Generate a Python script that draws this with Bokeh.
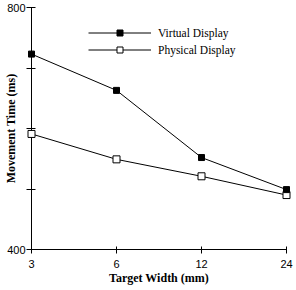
from bokeh.plotting import figure
from bokeh.models import (Range1d, FixedTicker, LinearAxis, Legend, LegendItem, ColumnDataSource)
from bokeh.embed import file_html
from bokeh.resources import INLINE

target_width = [3, 6, 12, 24]
virtual_display = [723, 663, 552, 499]
physical_display = [591, 549, 521, 490]
x_tick_labels = ["3", "6", "12", "24"]
y_ticks = [400, 500, 600, 700, 800]
y_tick_labels = ["400", "", "", "", "800"]
series_names = ["Virtual Display", "Physical Display"]
x_title = "Target Width (mm)"
y_title = "Movement Time (ms)"

p = figure(width=296, height=290, x_axis_type="log",
           x_range=Range1d(target_width[0], target_width[-1]),
           y_range=Range1d(y_ticks[0], y_ticks[-1]),
           output_backend="svg", toolbar_location=None,
           min_border_left=26, min_border_right=10, min_border_top=7, min_border_bottom=41)
p.outline_line_color = None
p.grid.visible = False
p.background_fill_color = "white"
p.border_fill_color = "white"

xa = p.xaxis[0]
xa.ticker = FixedTicker(ticks=target_width, minor_ticks=[])
xa.major_label_overrides = {t: l for t, l in zip(target_width, x_tick_labels)}
xa.major_tick_in = 3
xa.major_tick_out = 4
xa.minor_tick_in = 0
xa.minor_tick_out = 0
xa.axis_line_color = "black"
xa.major_tick_line_color = "black"
xa.major_label_text_font = "Liberation Sans"
xa.major_label_text_font_size = "11px"
xa.major_label_text_color = "black"
xa.major_label_standoff = 6
xa.axis_label = x_title
xa.axis_label_text_font = "Liberation Serif"
xa.axis_label_text_font_style = "bold"
xa.axis_label_text_font_size = "12px"
xa.axis_label_text_color = "black"
xa.axis_label_standoff = 0

ya = p.yaxis[0]
ya.ticker = FixedTicker(ticks=y_ticks, minor_ticks=[])
ya.major_label_overrides = {t: l for t, l in zip(y_ticks, y_tick_labels)}
ya.major_tick_in = 4
ya.major_tick_out = 5
ya.minor_tick_in = 0
ya.minor_tick_out = 0
ya.axis_line_color = "black"
ya.major_tick_line_color = "black"
ya.major_label_text_font = "Liberation Sans"
ya.major_label_text_font_size = "11px"
ya.major_label_text_color = "black"
ya.major_label_standoff = 1

# title-only axis: its label is centred on its bounds, like the reference's raised title
title_axis = LinearAxis(axis_label=y_title, bounds=(490, 800),
                        ticker=FixedTicker(ticks=[], minor_ticks=[]),
                        axis_line_color=None, major_tick_in=0, major_tick_out=0,
                        minor_tick_in=0, minor_tick_out=0,
                        major_label_text_font_size="0px",
                        axis_label_standoff=-13,
                        axis_label_text_font="Liberation Serif",
                        axis_label_text_font_style="bold",
                        axis_label_text_font_size="12px",
                        axis_label_text_color="black")
p.add_layout(title_axis, "left")

src = ColumnDataSource(dict(x=target_width, v=virtual_display, ph=physical_display))
lv = p.line("x", "v", source=src, line_color="black", line_width=1)
lp = p.line("x", "ph", source=src, line_color="black", line_width=1)
sp = p.scatter("x", "ph", source=src, marker="square", size=7,
               fill_color="white", line_color="black", line_width=1, level="overlay")
sv = p.scatter("x", "v", source=src, marker="square", size=6,
               fill_color="black", line_color="black", line_width=1, level="overlay")

legend = Legend(items=[LegendItem(label=series_names[0], renderers=[lv, sv]),
                       LegendItem(label=series_names[1], renderers=[lp, sp])],
                location=(57, 192), orientation="vertical",
                glyph_width=63, glyph_height=15, label_height=13,
                label_standoff=7, spacing=2, padding=0, margin=0,
                border_line_color=None, background_fill_alpha=0,
                label_text_font="Liberation Serif", label_text_font_size="11.5px",
                label_text_color="black")
p.add_layout(legend)

open("out.html", "w").write(file_html(p, INLINE))
